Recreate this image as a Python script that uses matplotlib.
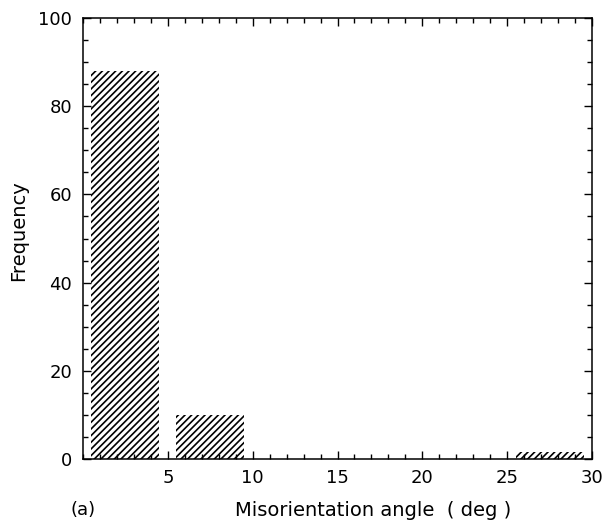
import matplotlib
matplotlib.use("Agg")
import matplotlib.pyplot as plt
from matplotlib.ticker import MultipleLocator

plt.rcParams['font.family'] = ['DejaVu Sans']
plt.rcParams['hatch.linewidth'] = 1.2

bin_centers = [2.5, 7.5, 27.5]
frequencies = [88, 10, 1.6]
bin_width = 4.0
x_ticks = [5, 10, 15, 20, 25, 30]
y_ticks = [0, 20, 40, 60, 80, 100]

fig = plt.figure(figsize=(6.15, 5.26), dpi=100)
ax = fig.add_axes([83/615, 1 - 459/526, (592-83)/615, (459-18)/526])

ax.bar(bin_centers, frequencies, width=bin_width, color='white', edgecolor='black',
       hatch='/////', linewidth=0)

ax.set_xlim(0, 30)
ax.set_ylim(0, 100)
ax.set_xticks(x_ticks)
ax.set_yticks(y_ticks)
ax.xaxis.set_minor_locator(MultipleLocator(1))
ax.yaxis.set_minor_locator(MultipleLocator(5))
ax.tick_params(which='both', direction='in', top=True, right=True, labelsize=13, width=1.0)
ax.tick_params(which='major', length=6)
ax.tick_params(which='minor', length=3.5)
ax.tick_params(axis='y', which='major', pad=8)
ax.tick_params(axis='x', which='major', pad=7)
for s in ax.spines.values():
    s.set_linewidth(1.1)

fig.text(19/615, 1 - 231/526, 'Frequency', fontsize=14, rotation=90, ha='center', va='center')
fig.text(373/615, 1 - 510/526, 'Misorientation angle  ( deg )', fontsize=14, ha='center', va='center')
fig.text(70/615, 1 - 510/526, '(a)', fontsize=13, ha='left', va='center')

fig.savefig('out.png', dpi=100)
